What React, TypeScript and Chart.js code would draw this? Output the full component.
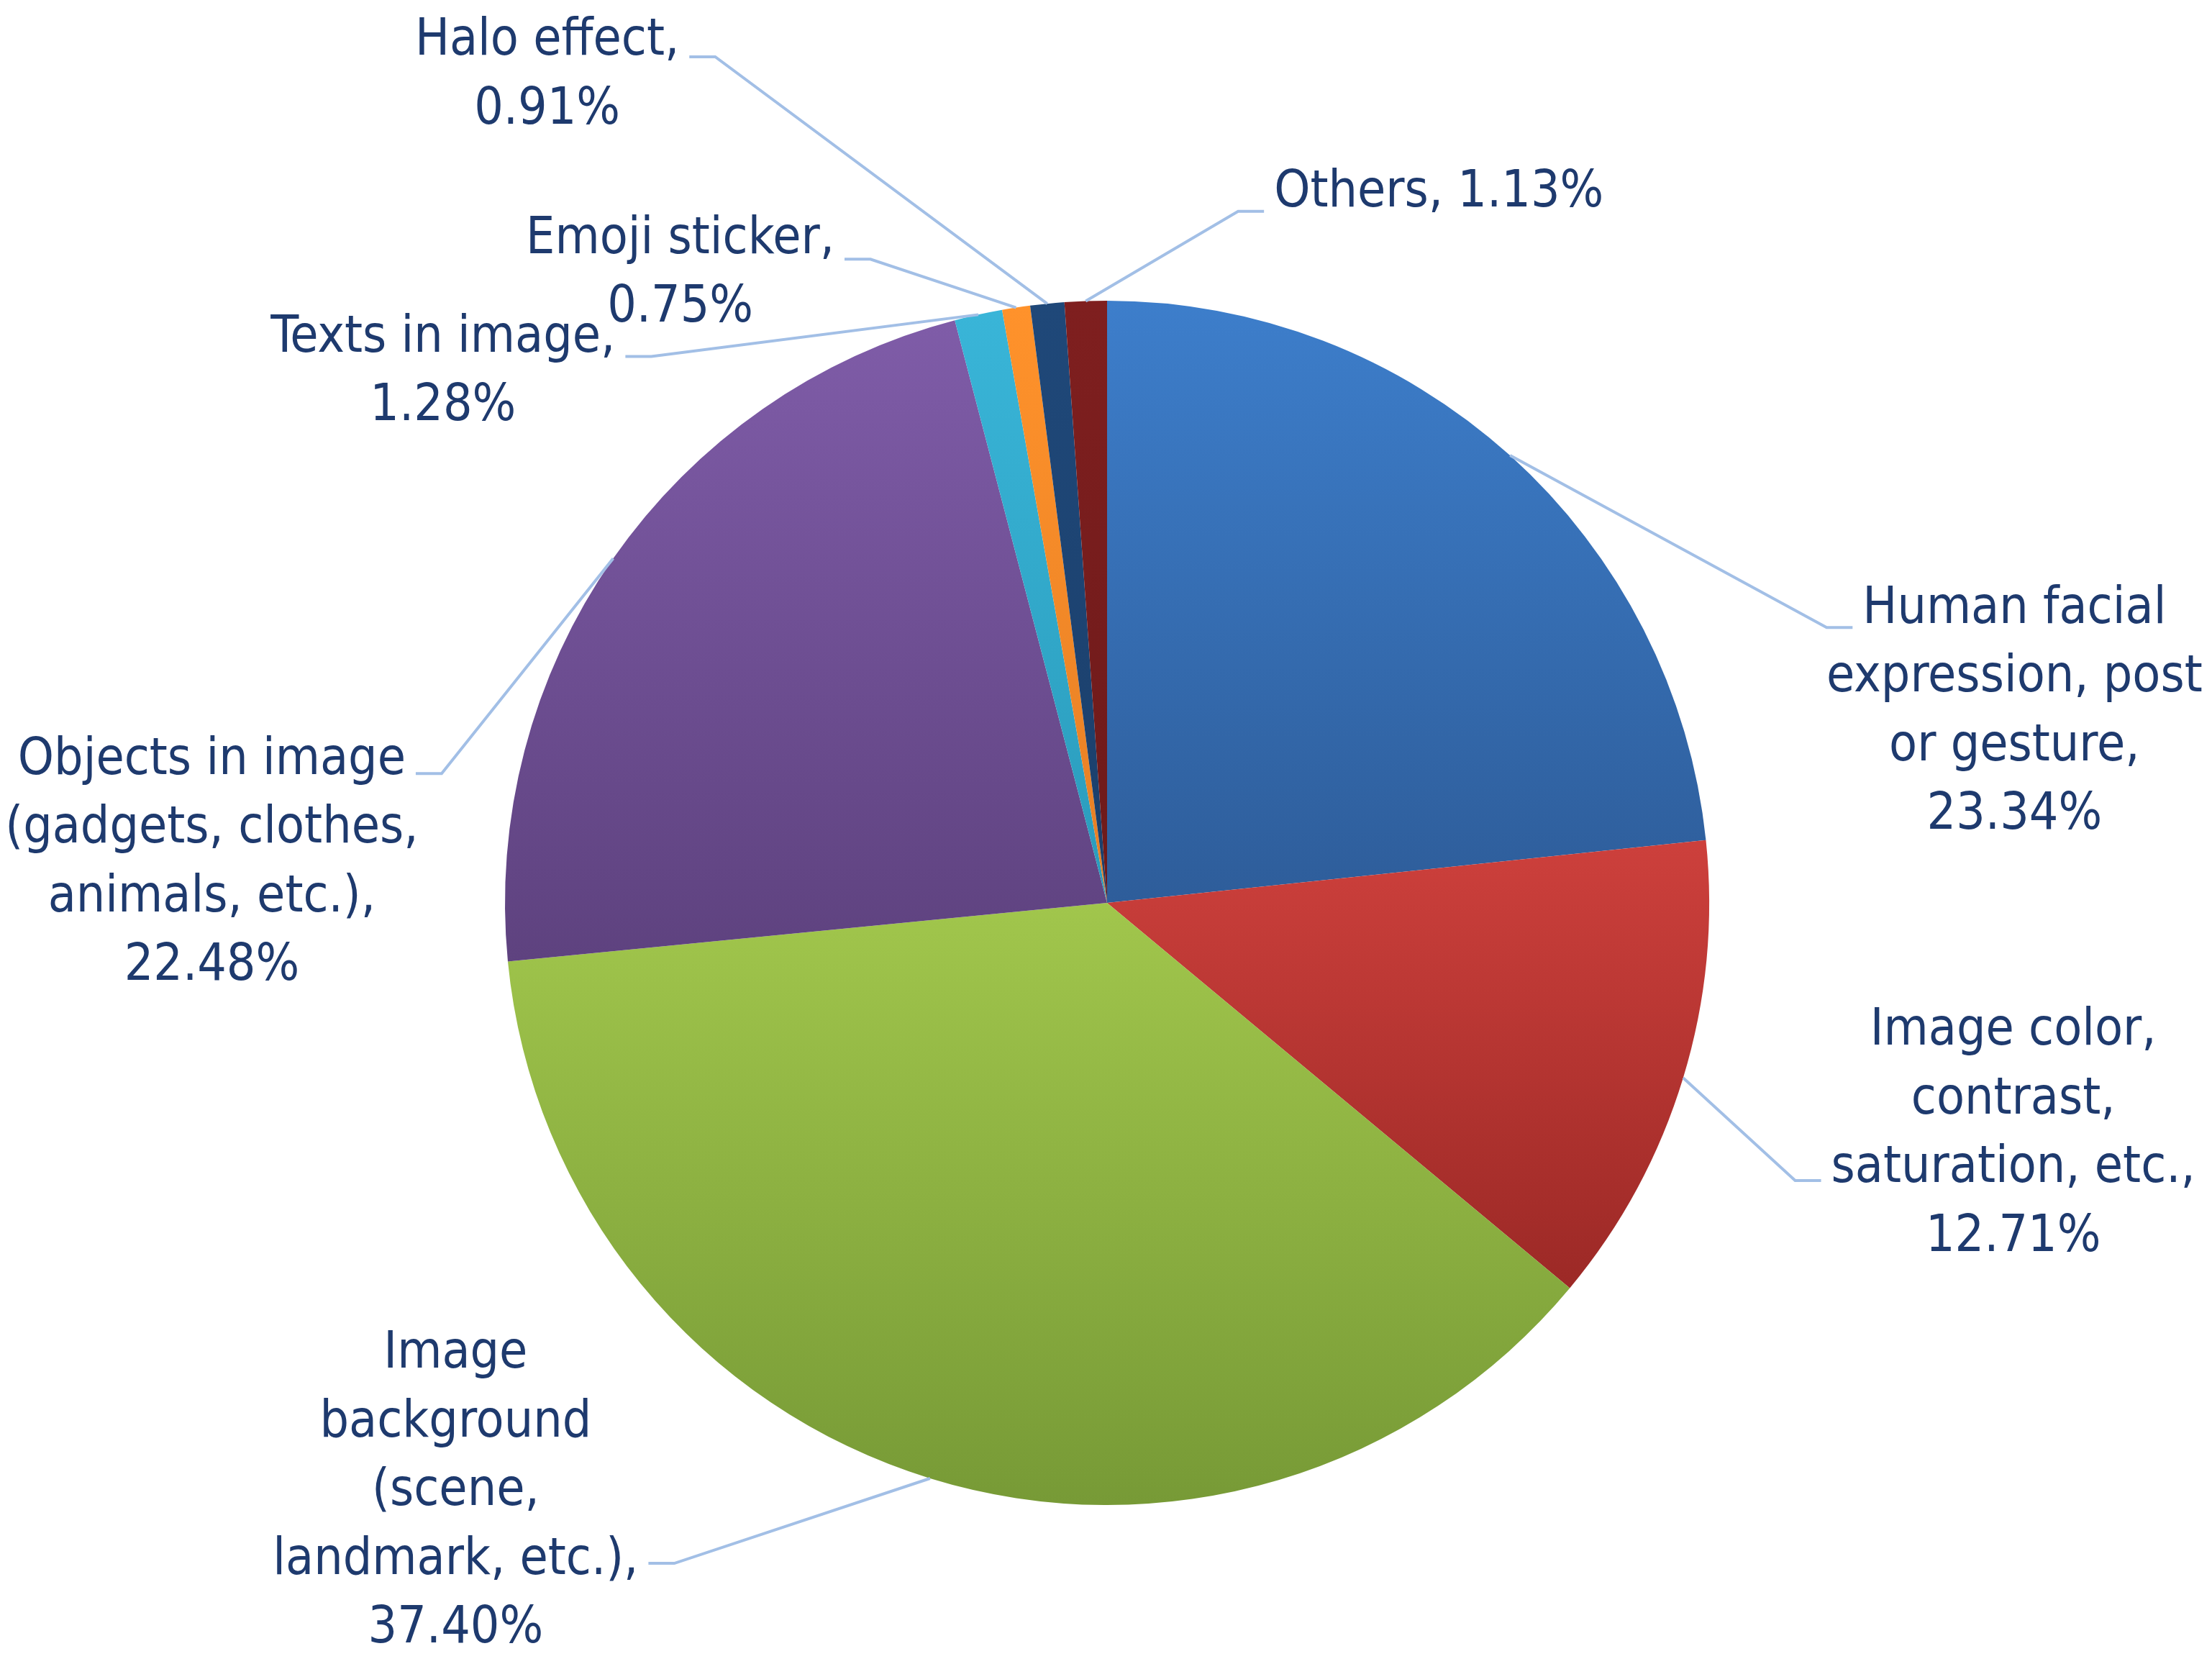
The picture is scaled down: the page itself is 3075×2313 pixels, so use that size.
import React, { useEffect, useRef } from "react";
import { Chart, registerables } from "chart.js";

Chart.register(...registerables);

// ---- data ----
const categories: string[] = [
  "Human facial\nexpression, post\nor gesture",
  "Image color,\ncontrast,\nsaturation, etc.",
  "Image\nbackground\n(scene,\nlandmark, etc.)",
  "Objects in image\n(gadgets, clothes,\nanimals, etc.)",
  "Texts in image",
  "Emoji sticker",
  "Halo effect",
  "Others",
];
const shares: number[] = [23.34, 12.71, 37.4, 22.48, 1.28, 0.75, 0.91, 1.13];

// ---- styles ----
const topColors = ["#3d7ecb", "#cd403c", "#a1c64c", "#7f5ca8", "#39b5d8", "#ff922b", "#1f4879", "#7f1f1f"];
const bottomColors = ["#2e5d9a", "#9c2926", "#779a36", "#5e427f", "#2a9bbb", "#e57f25", "#1b3f6b", "#6d1a1a"];
const TEXT_COLOR = "#1e3a6e";
const LEADER_COLOR = "#a2bfe6";
const FONT = "71px 'DejaVu Sans Condensed', 'DejaVu Sans', sans-serif";
const LINE_HEIGHT = 95.5;
const TEXT_SHIFT = 4;
const LEADER_GAP = 14;
const LEADER_SEG = 36;

// label placement relative to pie centre, in units of the pie radius
const labelLayout = [
  { dx: 1.507, dy: -0.492, sep: "\n", attach: 0, side: "left", drop: 29 },
  { dx: 1.505, dy: 0.209, sep: "\n", attach: 2, side: "left", drop: 20 },
  { dx: -1.082, dy: 0.745, sep: "\n", attach: 3, side: "right", drop: 8 },
  { dx: -1.487, dy: -0.241, sep: "\n", attach: 0, side: "right", drop: 22 },
  { dx: -1.103, dy: -0.942, sep: "\n", attach: 0, side: "right", drop: 29 },
  { dx: -0.709, dy: -1.106, sep: "\n", attach: 0, side: "right", drop: 31 },
  { dx: -0.93, dy: -1.435, sep: "\n", attach: 0, side: "right", drop: 25 },
  { dx: 0.551, dy: -1.183, sep: " ", attach: 0, side: "left", drop: 29 },
];

function sliceFill(c: any) {
  const i: number = c.dataIndex ?? 0;
  const chart = c.chart;
  const area = chart.chartArea;
  if (!area) return topColors[i];
  const data: number[] = c.dataset.data;
  const total = data.reduce((a, b) => a + b, 0);
  const before = data.slice(0, i).reduce((a, b) => a + b, 0);
  const cx = (area.left + area.right) / 2;
  const cy = (area.top + area.bottom) / 2;
  const r = Math.min(area.width, area.height) / 2;
  const a0 = -Math.PI / 2 + (2 * Math.PI * before) / total;
  const a1 = a0 + (2 * Math.PI * data[i]) / total;
  let minY = cy;
  let maxY = cy;
  for (let k = 0; k <= 120; k++) {
    const a = a0 + ((a1 - a0) * k) / 120;
    const y = cy + r * Math.sin(a);
    if (y < minY) minY = y;
    if (y > maxY) maxY = y;
  }
  const g = chart.ctx.createLinearGradient(0, minY, 0, maxY + 0.01);
  g.addColorStop(0, topColors[i]);
  g.addColorStop(1, bottomColors[i]);
  return g;
}

const labelPlugin = {
  id: "pieLabels",
  afterDatasetsDraw(chart: any) {
    const ctx = chart.ctx;
    const meta = chart.getDatasetMeta(0);
    const data: number[] = chart.data.datasets[0].data;
    ctx.save();
    ctx.font = FONT;
    ctx.textAlign = "center";
    ctx.textBaseline = "middle";
    meta.data.forEach((arc: any, i: number) => {
      const p = arc.getProps(["x", "y", "outerRadius", "startAngle", "endAngle"], true);
      const L = labelLayout[i];
      const text = categories[i] + "," + L.sep + data[i].toFixed(2) + "%";
      const lines = text.split("\n");
      const cx = p.x + L.dx * p.outerRadius;
      const cy0 = p.y + L.dy * p.outerRadius;
      // leader line
      const mid = (p.startAngle + p.endAngle) / 2;
      const ex = p.x + Math.cos(mid) * p.outerRadius;
      const ey = p.y + Math.sin(mid) * p.outerRadius;
      const tw = ctx.measureText(lines[L.attach]).width;
      const ly = cy0 + L.attach * LINE_HEIGHT + L.drop;
      const tx = L.side === "left" ? cx - tw / 2 - LEADER_GAP : cx + tw / 2 + LEADER_GAP;
      const kx = L.side === "left" ? tx - LEADER_SEG : tx + LEADER_SEG;
      ctx.strokeStyle = LEADER_COLOR;
      ctx.lineWidth = 4;
      ctx.beginPath();
      ctx.moveTo(ex, ey);
      ctx.lineTo(kx, ly);
      ctx.lineTo(tx, ly);
      ctx.stroke();
      // text
      ctx.fillStyle = TEXT_COLOR;
      lines.forEach((t, k) => ctx.fillText(t, cx, cy0 + k * LINE_HEIGHT + TEXT_SHIFT));
    });
    ctx.restore();
  },
};

export default function App() {
  const ref = useRef<HTMLCanvasElement>(null);
  useEffect(() => {
    if (!ref.current) return;
    const chart = new Chart(ref.current, {
      type: "pie",
      data: {
        labels: categories.map((c) => c.replace(/\n/g, " ")),
        datasets: [
          {
            data: shares,
            backgroundColor: sliceFill as any,
            borderWidth: 0,
          },
        ],
      },
      options: {
        animation: false,
        responsive: false,
        devicePixelRatio: 1,
        layout: { padding: { left: 702, right: 699, top: 418, bottom: 221 } },
        plugins: {
          legend: { display: false },
          tooltip: { enabled: false },
        },
      },
      plugins: [labelPlugin],
    });
    return () => chart.destroy();
  }, []);
  return (
    <div style={{ position: "absolute", left: 0, top: 0, width: 3075, height: 2313, background: "#ffffff" }}>
      <canvas ref={ref} width={3075} height={2313} style={{ display: "block", width: 3075, height: 2313 }} />
    </div>
  );
}
